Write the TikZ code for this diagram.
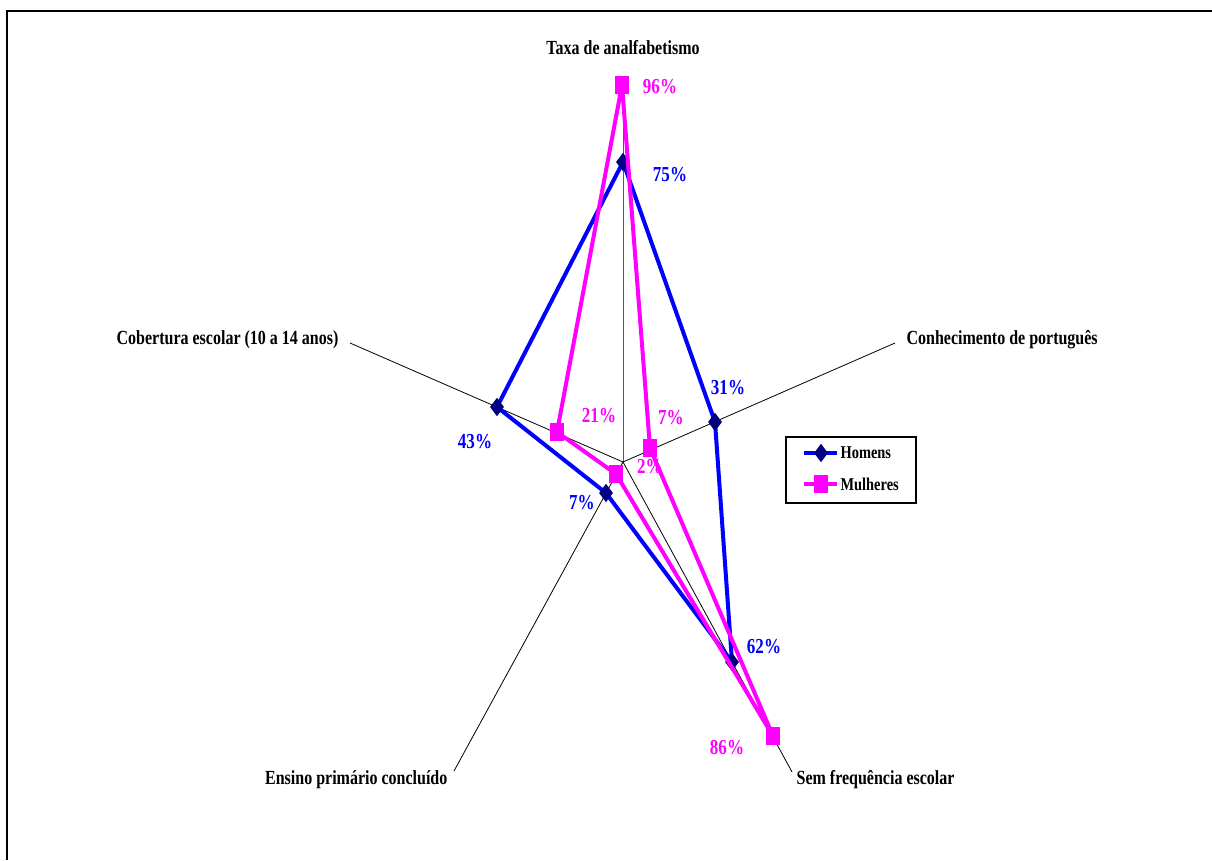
\documentclass[tikz,border=0pt]{standalone}
\usepackage{fontspec}
\setmainfont{Liberation Serif}[FakeStretch=0.8]
\usetikzlibrary{shapes.geometric}
\definecolor{hblue}{RGB}{0,0,255}
\definecolor{hnavy}{RGB}{0,0,128}
\definecolor{mpink}{RGB}{255,0,255}
\begin{document}
\begin{tikzpicture}[x=0.75pt,y=-0.75pt,
  axisline/.style={black, line width=0.6pt},
  hline/.style={draw=hblue, line width=3pt, line join=round},
  mline/.style={draw=mpink, line width=3pt, line join=round},
  hmark/.style={diamond, fill=hnavy, inner sep=0pt, minimum width=10.5pt, minimum height=14pt},
  mmark/.style={rectangle, fill=mpink, inner sep=0pt, minimum width=10pt, minimum height=12.8pt},
  cat/.style={font=\bfseries\fontsize{15}{17}\selectfont, inner sep=1pt},
  hval/.style={font=\bfseries\fontsize{16}{18}\selectfont, text=hblue, inner sep=1pt},
  mval/.style={font=\bfseries\fontsize{16}{18}\selectfont, text=mpink, inner sep=1pt},
  legtext/.style={font=\bfseries\fontsize{13.5}{15}\selectfont, anchor=west, inner sep=1pt}
]
\useasboundingbox (0,0) rectangle (1212,860);
% frame
\draw[line width=1pt] (7,860) -- (7,11) -- (1212,11);

% axes
\coordinate (c) at (623,462);
\coordinate (aT) at (623,78);
\coordinate (aC) at (895,343);
\coordinate (aS) at (792,772);
\coordinate (aE) at (454,771);
\coordinate (aB) at (350,343);
\draw[axisline, draw=gray!70!black] (c) -- (aT);
\draw[axisline] (c) -- (aC);
\draw[axisline] (c) -- (aS);
\draw[axisline] (c) -- (aE);
\draw[axisline] (c) -- (aB);

% category labels
\node[cat] (lT) at (623,48) {Taxa de analfabetismo};
\node[cat, anchor=west] (lC) at (905,340) {Conhecimento de português};
\node[cat, anchor=east] (lB) at (340,340) {Cobertura escolar (10 a 14 anos)};
\node[cat, anchor=east] (lE) at (449,780) {Ensino primário concluído};
\node[cat, anchor=west] (lS) at (795,780) {Sem frequência escolar};

% Homens
\coordinate (h1) at (623,162);
\coordinate (h2) at (715,422);
\coordinate (h3) at (732,662);
\coordinate (h4) at (606,493);
\coordinate (h5) at (497,407);
% Mulheres
\coordinate (m1) at (622,85);
\coordinate (m2) at (650,448);
\coordinate (m3) at (773,736);
\coordinate (m4) at (616,474);
\coordinate (m5) at (557,432);

\draw[hline] (h1) -- (h2) -- (h3) -- (h4) -- (h5) -- cycle;
\foreach \p in {h1,h2,h3,h4,h5} \node[hmark] at (\p) {};
\draw[mline] (m1) -- (m2) -- (m3) -- (m4) -- (m5) -- cycle;
\foreach \p in {m1,m2,m3,m4,m5} \node[mmark] at (\p) {};

% value labels
\node[hval] (v75) at (670,175) {75\%};
\node[hval] (v31) at (728,388) {31\%};
\node[hval] (v62) at (764,647) {62\%};
\node[hval] (v7h) at (582,503) {7\%};
\node[hval] (v43) at (475,442) {43\%};
\node[mval] (v96) at (660,87) {96\%};
\node[mval] (v7m) at (671,418) {7\%};
\node[mval] (v86) at (727,748) {86\%};
\node[mval] (v2) at (650,467) {2\%};
\node[mval] (v21) at (599,416) {21\%};

% legend
\node[draw=black, line width=0.8pt, minimum width=97.5pt, minimum height=49.5pt, inner sep=0pt] (leg) at (851,470) {};
\coordinate (lh1) at (804,453);
\coordinate (lh2) at (837,453);
\coordinate (lm1) at (804,484);
\coordinate (lm2) at (837,484);
\draw[hline] (lh1) -- (lh2);
\node[hmark] (lhm) at (821,453) {};
\draw[mline] (lm1) -- (lm2);
\node[mmark] (lmm) at (821,484) {};
\node[legtext] (lht) at (839,453) {Homens};
\node[legtext] (lmt) at (839,484) {Mulheres};
\end{tikzpicture}
\end{document}
